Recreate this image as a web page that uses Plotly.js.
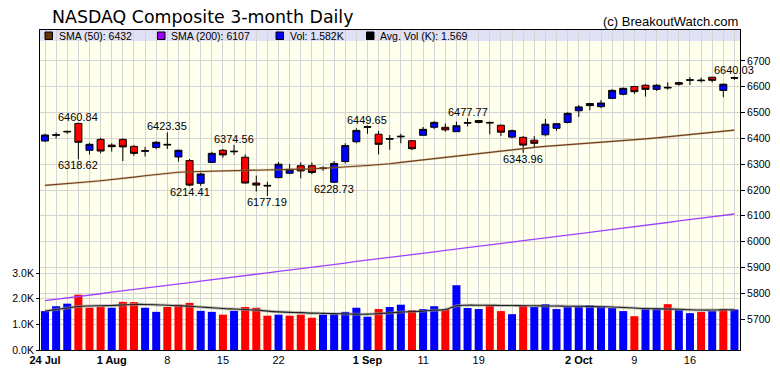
<!DOCTYPE html>
<html><head><meta charset="utf-8">
<script src="https://cdn.plot.ly/plotly-3.0.1.min.js"></script>
<style>html,body{margin:0;padding:0;background:#fff}#chart{width:780px;height:376px}</style>
</head><body><div id="chart"></div>
<script>
// ---- data ----
const openP  = [6390,6412,6425,6458,6354,6396,6374,6396,6369,6350,6365,6377,6328,6314,6226,6307,6354,6348,6327,6227,6218,6248,6265,6294,6294,6283,6230,6310,6387,6443,6416,6397,6406,6391,6412,6443,6443,6426,6459,6469,6462,6451,6405,6404,6393,6414,6439,6462,6507,6527,6523,6555,6571,6601,6606,6590,6598,6616,6625,6626,6637,6586,6633];
const highP  = [6418,6423,6430,6460.84,6382,6402,6381,6400,6374,6367,6390,6423.35,6356,6320,6267,6348,6359,6374.56,6338,6256,6232,6308,6300,6307,6307,6292,6312,6381,6439,6449.65,6429,6413,6418,6393,6444,6467,6458,6465,6477.77,6471,6465,6453,6434,6409,6409,6475,6459,6501,6529,6538,6549,6591,6597,6604,6610,6610,6617,6620,6638,6635,6638,6612,6640.03];
const lowP   = [6386,6400,6418,6318.62,6338,6342,6349,6312,6333,6330,6358,6359,6310,6214.41,6216,6305,6325,6336,6225,6194,6177.19,6245,6261,6245,6261,6274,6228.73,6303,6381,6418,6338,6356,6381,6355,6411,6436,6426,6425,6447,6458,6416,6409,6400,6343.96,6365,6408,6429,6458,6483,6509,6517,6553,6567,6572,6562,6584,6589,6604,6607,6617,6617,6560,6627];
const closeP = [6413,6414,6427,6385,6377,6351,6368,6367,6342,6352,6385,6375,6354,6219,6262,6342,6336,6350,6227,6219,6216,6300,6280,6274,6268,6285,6303,6372,6431,6445,6377,6399,6408,6360,6435,6462,6433,6449,6461,6462,6460,6424,6430,6374,6381,6455,6457,6497,6522,6535,6537,6586,6594,6581,6590,6606,6596,6610,6627,6624,6625,6610,6635];
const volumeK = [1.52,1.71,1.81,2.16,1.65,1.69,1.65,1.88,1.87,1.65,1.49,1.68,1.77,1.84,1.53,1.49,1.38,1.53,1.68,1.65,1.34,1.38,1.34,1.38,1.26,1.38,1.40,1.49,1.65,1.30,1.60,1.68,1.77,1.56,1.60,1.71,1.60,2.53,1.64,1.60,1.75,1.52,1.40,1.75,1.68,1.79,1.60,1.68,1.71,1.75,1.71,1.64,1.52,1.32,1.60,1.64,1.79,1.56,1.44,1.49,1.52,1.60,1.582];
const avgVolK = [1.52,1.58,1.64,1.70,1.72,1.73,1.74,1.76,1.78,1.78,1.77,1.75,1.73,1.71,1.68,1.65,1.62,1.60,1.58,1.56,1.52,1.49,1.47,1.46,1.44,1.43,1.42,1.41,1.40,1.40,1.42,1.45,1.48,1.50,1.52,1.55,1.58,1.73,1.75,1.75,1.75,1.74,1.74,1.73,1.73,1.72,1.72,1.71,1.71,1.70,1.69,1.68,1.66,1.64,1.62,1.61,1.60,1.59,1.57,1.56,1.56,1.57,1.569];
const sma50 = [6218,6221,6224,6228,6232,6236,6240,6245,6250,6255,6260,6265,6269,6271,6272,6273,6274,6274,6275,6275,6276,6277,6278,6280,6282,6284,6286,6289,6292,6295,6298,6302,6307,6312,6317,6322,6327,6332,6337,6342,6347,6352,6357,6361,6365,6369,6372,6375,6378,6381,6384,6387,6390,6394,6398,6402,6406,6410,6414,6419,6423,6428,6432];
const sma200 = [5771,5776,5782,5787,5793,5798,5804,5809,5814,5820,5825,5831,5836,5841,5847,5852,5858,5863,5868,5874,5879,5885,5890,5896,5901,5906,5912,5917,5923,5928,5933,5939,5944,5950,5955,5960,5966,5971,5977,5982,5988,5993,5998,6004,6009,6015,6020,6025,6031,6036,6042,6047,6052,6058,6063,6069,6074,6080,6085,6090,6096,6101,6107];
const dateTickIdx  = [0,6,11,16,21,29,34,39,48,53,58];
const dateTickText = ['<b>24 Jul</b>','<b>1 Aug</b>','8','15','22','<b>1 Sep</b>','11','19','<b>2 Oct</b>','9','16'];
const priceTicks = [5700,5800,5900,6000,6100,6200,6300,6400,6500,6600,6700];
const volTicks = [0,1,2,3];
const volTickText = ['0.0K','1.0K','2.0K','3.0K'];
const markHighIdx = [3,11,17,29,38,62];
const markLowIdx  = [3,13,20,26,43];

// ---- derived ----
const xs = closeP.map((_, i) => i);
const volColors = closeP.map((c, i) => (i === 0 || c >= closeP[i-1]) ? '#0000FF' : '#FF0000');

const PL = 40, PR = 740, PT = 30, PB = 350;
const px = v => (v - PL) / (PR - PL);
const py = v => (PB - v) / (PB - PT);

const FONT = 'Liberation Sans, Arial, sans-serif';
const GRID = '#D4D4D4';

const traces = [
  {type:'bar', x:xs, y:volumeK, marker:{color:volColors, line:{width:0}}, yaxis:'y', hoverinfo:'skip'},
  {type:'scatter', mode:'lines', x:xs, y:avgVolK, yaxis:'y', line:{color:'rgba(150,150,150,0.6)', width:3, shape:'spline'}, hoverinfo:'skip'},
  {type:'scatter', mode:'lines', x:xs, y:avgVolK, yaxis:'y', line:{color:'#222', width:1.1, shape:'spline'}, hoverinfo:'skip'},
  {type:'scatter', mode:'lines', x:xs, y:sma200, yaxis:'y2', line:{color:'#A040FF', width:1.3}, hoverinfo:'skip'},
  {type:'scatter', mode:'lines', x:xs, y:sma50, yaxis:'y2', line:{color:'rgba(170,130,90,0.35)', width:2.4}, hoverinfo:'skip'},
  {type:'scatter', mode:'lines', x:xs, y:sma50, yaxis:'y2', line:{color:'#704018', width:1.1}, hoverinfo:'skip'},
  {type:'candlestick', x:xs, open:openP, high:highP, low:lowP, close:closeP, yaxis:'y2',
   increasing:{line:{color:'#000', width:1}, fillcolor:'#0000FF'},
   decreasing:{line:{color:'#000', width:1}, fillcolor:'#FF0000'},
   whiskerwidth:0, hoverinfo:'skip'}
];

const annotations = [];
markHighIdx.forEach(i => annotations.push({x:i, y:highP[i], xref:'x', yref:'y2', text:highP[i].toFixed(2),
  showarrow:false, yanchor:'bottom', xanchor:'center', yshift:-1, borderpad:0, font:{family:FONT, size:11, color:'#000'}}));
markLowIdx.forEach(i => annotations.push({x:i, y:lowP[i], xref:'x', yref:'y2', text:lowP[i].toFixed(2),
  showarrow:false, yanchor:'top', xanchor:'center', yshift:1, borderpad:0, font:{family:FONT, size:11, color:'#000'}}));

const legendItems = [
  {text:'SMA (50): ' + sma50[sma50.length-1], color:'#663300', sq:45, tx:57},
  {text:'SMA (200): ' + sma200[sma200.length-1], color:'#9900FF', sq:157.5, tx:169},
  {text:'Vol: ' + volumeK[volumeK.length-1].toFixed(3) + 'K', color:'#0000FF', sq:276, tx:287.5},
  {text:'Avg. Vol (K): ' + avgVolK[avgVolK.length-1].toFixed(3), color:'#000000', sq:366.5, tx:378}
];
const shapes = [
  {type:'rect', xref:'paper', yref:'paper', x0:0, x1:1, y0:py(41), y1:1, fillcolor:'#E1E1F6', line:{width:0}, layer:'between'}
];
legendItems.forEach(it => {
  shapes.push({type:'rect', xref:'paper', yref:'paper', x0:px(it.sq), x1:px(it.sq+7.5), y0:py(39.5), y1:py(32), fillcolor:it.color, line:{color:'#000', width:1}, layer:'above'});
  annotations.push({xref:'paper', yref:'paper', x:px(it.tx), y:py(35.8), text:it.text, showarrow:false, xanchor:'left', yanchor:'middle', font:{family:FONT, size:10.5, color:'#000'}});
});
annotations.push({xref:'paper', yref:'paper', x:1, y:py(21.5), text:'(c) BreakoutWatch.com', showarrow:false, xanchor:'right', yanchor:'middle', font:{family:FONT, size:13, color:'#000'}});

const layout = {
  width:780, height:376,
  margin:{l:40, r:40, t:30, b:26, pad:0},
  paper_bgcolor:'#FFFFFF', plot_bgcolor:'#FFFFEE',
  showlegend:false,
  title:{text:'NASDAQ Composite 3-month Daily', xref:'container', yref:'container', x:52/780, xanchor:'left', y:1-17/376, yanchor:'middle', font:{family:'DejaVu Sans, sans-serif', size:17.4, color:'#000'}},
  xaxis:{range:[-0.45, 62.5], tickmode:'array', tickvals:dateTickIdx, ticktext:dateTickText,
    showgrid:true, gridcolor:GRID, gridwidth:1,
    minor:{tickmode:'linear', tick0:0, dtick:1, showgrid:true, gridcolor:GRID, gridwidth:1, ticks:''},
    showline:true, linecolor:'#000', linewidth:1, mirror:true, ticks:'', zeroline:false,
    tickfont:{family:FONT, size:11, color:'#000'}, rangeslider:{visible:false}, fixedrange:true},
  yaxis:{range:[0, 12.5], side:'left', tickmode:'array', tickvals:volTicks, ticktext:volTickText,
    ticks:'outside', ticklen:3, tickcolor:'#000', showgrid:true, gridcolor:GRID, showline:true, linecolor:'#000', linewidth:1,
    zeroline:false, tickfont:{family:FONT, size:10.5, color:'#000'}, fixedrange:true},
  yaxis2:{overlaying:'y', side:'right', range:[5580, 6820], tickmode:'array', tickvals:priceTicks,
    ticks:'outside', ticklen:4, tickcolor:'#000', showgrid:true, gridcolor:GRID, showline:true, linecolor:'#000', linewidth:1,
    zeroline:false, tickfont:{family:FONT, size:10.5, color:'#000'}, fixedrange:true},
  bargap:0.28, boxgap:0.1,
  shapes:shapes, annotations:annotations
};

Plotly.newPlot('chart', traces, layout, {displayModeBar:false, staticPlot:true});
</script></body></html>
